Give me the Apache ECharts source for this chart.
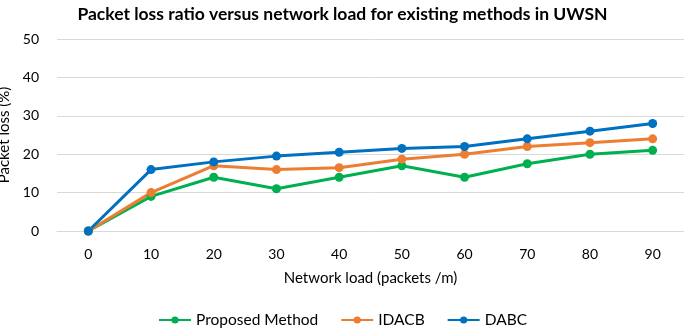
<!DOCTYPE html>
<html>
<head>
<meta charset="utf-8">
<script src="https://cdn.jsdelivr.net/npm/echarts@6/dist/echarts.min.js"></script>
<style>
  html, body { margin: 0; padding: 0; background: #fff; }
  #chart { width: 685px; height: 334px; }
</style>
</head>
<body>
<div id="chart"></div>
<script>
var loads = ['0', '10', '20', '30', '40', '50', '60', '70', '80', '90']
var proposed = [0, 9, 14, 11, 14, 17, 14, 17.5, 20, 21]
var idacb = [0, 10, 17, 16, 16.5, 18.7, 20, 22, 23, 24]
var dabc = [0, 16, 18, 19.5, 20.5, 21.5, 22, 24, 26, 28]

var font = 'Lato'

function line(name, data, color) {
  return {
    name: name,
    type: 'line',
    data: data,
    symbol: 'circle',
    symbolSize: 9,
    lineStyle: { width: 3, color: color },
    itemStyle: { color: color }
  }
}

var chart = echarts.init(document.getElementById('chart'))
chart.setOption({
  animation: false,
  textStyle: { fontFamily: font },
  title: {
    text: 'Packet loss ratio versus network load for existing methods in UWSN',
    left: 'center',
    top: 0,
    textStyle: { fontSize: 17.5, fontWeight: 'bold', color: '#000', fontFamily: font }
  },
  legend: {
    bottom: 1,
    left: 'center',
    itemWidth: 32,
    itemHeight: 9,
    itemGap: 22,
    textStyle: { fontSize: 15.5, color: '#000' },
    data: ['Proposed Method', 'IDACB', 'DABC']
  },
  grid: { left: 57, right: 1, top: 39, bottom: 103, outerBoundsMode: 'none' },
  xAxis: {
    type: 'category',
    data: loads,
    name: 'Network load (packets /m)',
    nameLocation: 'middle',
    nameGap: 40,
    nameTextStyle: { fontSize: 15, color: '#000' },
    axisLine: { lineStyle: { color: '#d9d9d9' } },
    axisTick: { show: false },
    axisLabel: { fontSize: 14, color: '#000', margin: 16 }
  },
  yAxis: {
    type: 'value',
    min: 0,
    max: 50,
    interval: 10,
    name: 'Packet loss (%)',
    nameLocation: 'middle',
    nameGap: 33,
    nameTextStyle: { fontSize: 15, color: '#000' },
    axisLine: { show: false },
    axisTick: { show: false },
    axisLabel: { fontSize: 14, color: '#000', margin: 18 },
    splitLine: { lineStyle: { color: '#d9d9d9' } }
  },
  series: [
    line('Proposed Method', proposed, '#00b050'),
    line('IDACB', idacb, '#ed7d31'),
    line('DABC', dabc, '#0070c0')
  ]
})
</script>
</body>
</html>
